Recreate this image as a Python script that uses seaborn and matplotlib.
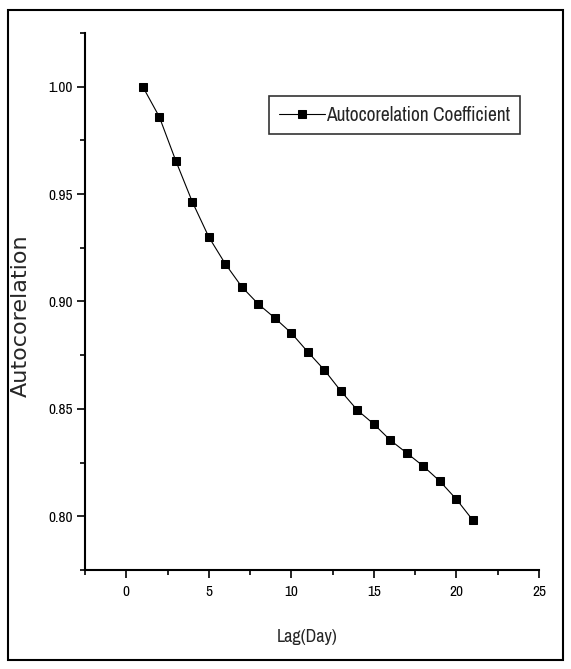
import matplotlib
matplotlib.use("Agg")
import matplotlib.pyplot as plt
import seaborn as sns
import pandas as pd
from matplotlib.ticker import MultipleLocator
from matplotlib.patches import Rectangle
from matplotlib import font_manager

lags = [1, 2, 3, 4, 5, 6, 7, 8, 9, 10, 11, 12, 13, 14, 15, 16, 17, 18, 19, 20, 21]
acf = [1.000, 0.986, 0.9655, 0.9464, 0.930, 0.9175, 0.9068, 0.8988, 0.8923, 0.8853,
       0.8765, 0.8681, 0.8583, 0.8494, 0.8429, 0.8354, 0.8294, 0.8233, 0.8163, 0.8079, 0.7981]
series_name = "Autocorelation Coefficient"
x_label = "Lag(Day)"
y_label = "Autocorelation"

sns.set_style("ticks")
names = {f.name for f in font_manager.fontManager.ttflist}
narrow = "Archivo Narrow" if "Archivo Narrow" in names else "Liberation Sans"
plt.rcParams['font.family'] = [narrow, 'DejaVu Sans']

df = pd.DataFrame({"lag": lags, "acf": acf, "series": series_name})

fig = plt.figure(figsize=(5.71, 6.69), dpi=100)
ax = fig.add_axes([85/571, 1-570/669, 454/571, 537/669])
sns.lineplot(data=df, x="lag", y="acf", hue="series", palette=["black"], marker="s",
             markersize=6, markeredgecolor="black", linewidth=0.8, ax=ax)

ax.set_xlim(-2.5, 25)
ax.set_ylim(0.775, 1.025)
ax.xaxis.set_major_locator(MultipleLocator(5))
ax.xaxis.set_minor_locator(MultipleLocator(2.5))
ax.yaxis.set_major_locator(MultipleLocator(0.05))
ax.yaxis.set_minor_locator(MultipleLocator(0.025))
ax.yaxis.set_major_formatter(plt.FormatStrFormatter('%.2f'))
ax.tick_params(which='both', direction='out', width=1.2, colors='black', labelsize=11)
ax.tick_params(which='major', length=6)
ax.tick_params(which='minor', length=3.3)
ax.tick_params(axis='x', which='major', pad=5)
ax.tick_params(axis='y', which='major', pad=3)
for s in ['top', 'right']:
    ax.spines[s].set_visible(False)
for s in ['left', 'bottom']:
    ax.spines[s].set_linewidth(1.5)
    ax.spines[s].set_color('black')

ax.set_xlabel(x_label, fontsize=13)
ax.xaxis.label.set_va('center')
ax.xaxis.set_label_coords((307.5-85)/454, (570-637)/537)
ax.set_ylabel(y_label, fontsize=16, family=['DejaVu Sans'])
ax.yaxis.set_label_coords((31-85)/454, (570-316)/537)

leg = ax.legend(loc='upper right', bbox_to_anchor=((520-85)/454, (570-96)/537),
                borderaxespad=0, frameon=True, fancybox=False, edgecolor='black',
                fontsize=14, handlelength=2.4, borderpad=0.5, handletextpad=0.05)
leg.get_frame().set_linewidth(1.2)

fig.patches.append(Rectangle((8/571, 1-660/669), 555/571, 650/669, transform=fig.transFigure,
                             fill=False, edgecolor='black', linewidth=1.5))

fig.savefig("out.png", dpi=100)
